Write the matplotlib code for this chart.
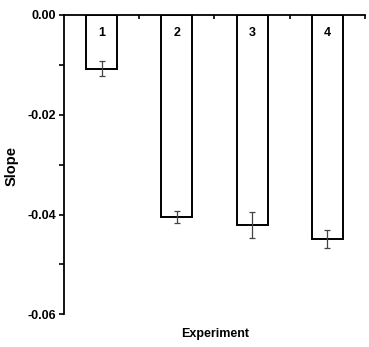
import matplotlib
matplotlib.use("Agg")
import matplotlib.pyplot as plt

experiments = ["1", "2", "3", "4"]
slopes = [-0.0108, -0.0405, -0.0421, -0.0449]
errors = [0.0015, 0.0012, 0.0026, 0.0019]
yticks = [0.0, -0.02, -0.04, -0.06]
ytick_labels = ["0.00", "-0.02", "-0.04", "-0.06"]

plt.rcParams['font.family'] = ['Liberation Sans', 'DejaVu Sans']

fig = plt.figure(figsize=(3.69, 3.47), dpi=100)
ax = fig.add_axes([0.1734, 0.0942, 0.8156, 0.8626])

x = list(range(1, len(experiments) + 1))
ax.bar(x, slopes, width=0.41, color='white', edgecolor='black', linewidth=1.4, zorder=2)
ax.errorbar(x, slopes, yerr=errors, fmt='none', ecolor='#444444', elinewidth=0.9,
            capsize=2.5, capthick=0.9, zorder=3)
for xi, lab in zip(x, experiments):
    ax.text(xi, -0.0036, lab, ha='center', va='center', fontsize=9, fontweight='bold')

ax.set_xlim(0.5, 4.5)
ax.set_ylim(-0.06, 0.0)
ax.set_yticks(yticks)
ax.set_yticklabels(ytick_labels, fontsize=9, fontweight='bold')
ax.set_yticks([-0.01, -0.03, -0.05], minor=True)
ax.tick_params(axis='y', which='both', direction='out', length=3.5, width=1.2, pad=2)

ax.xaxis.tick_top()
ax.set_xticks([1.5, 2.5, 3.5, 4.5])
ax.set_xticklabels([])
ax.tick_params(axis='x', which='both', direction='in', length=3, width=1.2)

for s in ['bottom', 'right']:
    ax.spines[s].set_visible(False)
for s in ['top', 'left']:
    ax.spines[s].set_linewidth(1.3)

fig.text(0.0325, 0.5216, 'Slope', rotation=90, ha='center', va='center',
         fontsize=10.5, fontweight='bold')
fig.text(0.5827, 0.037, 'Experiment', ha='center', va='center', fontsize=9, fontweight='bold')

fig.savefig('out.png', dpi=100)
